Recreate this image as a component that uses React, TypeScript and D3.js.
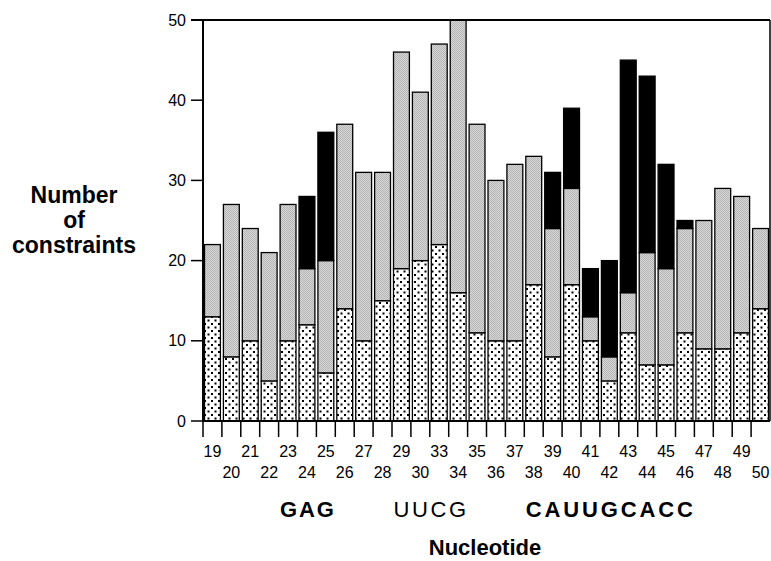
import React from 'react';
import * as d3 from 'd3';

// Nucleotide positions (31 and 32 are not shown)
const nucleotides = ["19", "20", "21", "22", "23", "24", "25", "26", "27", "28", "29", "30",
  "33", "34", "35", "36", "37", "38", "39", "40", "41", "42", "43", "44", "45", "46", "47", "48", "49", "50"];

// constraint counts per nucleotide, bottom to top
const dotted = [13, 8, 10, 5, 10, 12, 6, 14, 10, 15, 19, 20, 22, 16, 11, 10, 10, 17, 8, 17, 10, 5, 11, 7, 7, 11, 9, 9, 11, 14];
const gray = [9, 19, 14, 16, 17, 7, 14, 23, 21, 16, 27, 21, 25, 34, 26, 20, 22, 16, 16, 12, 3, 3, 5, 14, 12, 13, 16, 20, 17, 10];
const black = [0, 0, 0, 0, 0, 9, 16, 0, 0, 0, 0, 0, 0, 0, 0, 0, 0, 0, 7, 10, 6, 12, 29, 22, 13, 1, 0, 0, 0, 0];

const yTicks = [0, 10, 20, 30, 40, 50];

// sequence labels under the axis: text, first and last nucleotide, bold?
const sequences = [
  { text: "GAG", from: "23", to: "25", bold: true },
  { text: "UUCG", from: "29", to: "34", bold: false },
  { text: "CAUUGCACC", from: "38", to: "46", bold: true },
];

const W = 771;
const H = 561;
const LEFT = 203;
const RIGHT = 770;
const TOP = 20;
const BOTTOM = 421;
const FONT = "'Liberation Sans', Arial, Helvetica, sans-serif";

const keys = ["dotted", "gray", "black"];
const fills: Record<string, string> = {
  dotted: "url(#dots)",
  gray: "url(#dither)",
  black: "#000",
};

export default function App() {
  const rows = nucleotides.map((n, i) => ({ n, dotted: dotted[i], gray: gray[i], black: black[i] }));
  const series = d3.stack<any>().keys(keys)(rows);

  const x = d3.scaleBand().domain(nucleotides).range([LEFT, RIGHT]).paddingInner(0.16).paddingOuter(0.08);
  const y = d3.scaleLinear().domain([0, 50]).range([BOTTOM, TOP]);
  const bw = x.bandwidth();
  const gap = x.step() * 0.16;

  return (
    <svg width={W} height={H} style={{ position: 'absolute', left: 0, top: 0, background: '#fff' }}
      fontFamily={FONT}>
      <defs>
        <pattern id="dots" patternUnits="userSpaceOnUse" width="7" height="7">
          <rect width="7" height="7" fill="#fff" />
          <rect x="1" y="1" width="2" height="2" fill="#000" />
          <rect x="4.5" y="4.5" width="2" height="2" fill="#000" />
        </pattern>
        <pattern id="dither" patternUnits="userSpaceOnUse" width="2" height="2">
          <rect width="2" height="2" fill="#d8d8d8" />
          <rect x="0" y="0" width="1" height="1" fill="#b4b4b4" />
          <rect x="1" y="1" width="1" height="1" fill="#b4b4b4" />
        </pattern>
      </defs>

      {/* bars */}
      {series.map(s => (
        <g key={s.key}>
          {s.map((d: any) => d[1] > d[0] && (
            <rect key={d.data.n} x={x(d.data.n)} y={y(d[1])} width={bw} height={y(d[0]) - y(d[1])}
              fill={fills[s.key]} stroke="#000" strokeWidth={1.3} />
          ))}
        </g>
      ))}

      {/* frame */}
      <line x1={LEFT} x2={LEFT} y1={TOP} y2={BOTTOM} stroke="#000" strokeWidth={2} />
      <line x1={LEFT - 12} x2={RIGHT} y1={TOP} y2={TOP} stroke="#000" strokeWidth={2} />
      <line x1={RIGHT} x2={RIGHT} y1={TOP} y2={BOTTOM} stroke="#000" strokeWidth={1.5} />
      <line x1={LEFT} x2={RIGHT} y1={BOTTOM} y2={BOTTOM} stroke="#000" strokeWidth={2} />

      {/* y axis */}
      {yTicks.map(t => (
        <g key={t}>
          <line x1={LEFT - 12} x2={LEFT} y1={y(t)} y2={y(t)} stroke="#000" strokeWidth={1.5} />
          <text x={LEFT - 17} y={y(t)} dy="0.35em" textAnchor="end" fontSize={16}>{t}</text>
        </g>
      ))}

      {/* x axis ticks and staggered labels */}
      {nucleotides.map((n, i) => (
        <g key={n}>
          <line x1={x(n)! - gap / 2} x2={x(n)! - gap / 2} y1={BOTTOM} y2={BOTTOM + 16} stroke="#000" strokeWidth={1.5} />
          <text x={x(n)! + bw / 2} y={i % 2 === 0 ? 457 : 478} textAnchor="middle" fontSize={16}>{n}</text>
        </g>
      ))}

      {sequences.map(s => (
        <text key={s.text} x={x(s.from)} y={517} fontSize={22} fontWeight={s.bold ? 'bold' : 'normal'}
          textLength={x(s.to)! + bw - x(s.from)!} lengthAdjust="spacing">{s.text}</text>
      ))}

      <text x={485} y={555} textAnchor="middle" fontSize={22} fontWeight="bold">Nucleotide</text>
      <text x={74} textAnchor="middle" fontSize={23} fontWeight="bold">
        <tspan x={74} y={203}>Number</tspan>
        <tspan x={74} y={228}>of</tspan>
        <tspan x={74} y={253}>constraints</tspan>
      </text>
    </svg>
  );
}
